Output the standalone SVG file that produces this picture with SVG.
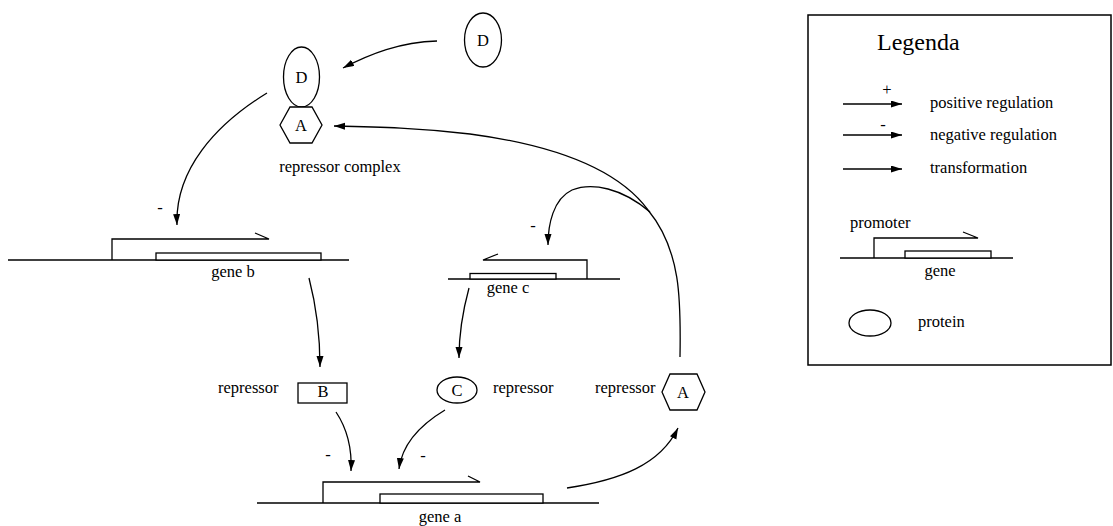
<svg xmlns="http://www.w3.org/2000/svg" width="1113" height="526" viewBox="0 0 1113 526">
<defs>
<marker id="ah" markerUnits="userSpaceOnUse" markerWidth="12" markerHeight="8" refX="11" refY="3.5" orient="auto">
<path d="M0,0 L11,3.5 L0,7 Z" fill="#000"/>
</marker>
<style>
text{font-family:"Liberation Serif","Times New Roman",serif;font-size:16.5px;fill:#000}
.c{text-anchor:middle}
.sh{fill:#fff;stroke:#000;stroke-width:1.3}
.ln{fill:none;stroke:#000;stroke-width:1.3}
.dna{fill:none;stroke:#000;stroke-width:1.6}
.box{fill:#fff;stroke:#000;stroke-width:1.3}
.con{fill:none;stroke:#000;stroke-width:1.3;marker-end:url(#ah)}
</style>
</defs>
<rect width="1113" height="526" fill="#fff"/>

<g id="connectors">
<path class="con" d="M437,41 C400,42 370,54 343,68"/>
<path class="con" d="M267,93 C215,125 175,170 177,225"/>
<path class="con" d="M680,357 C681,300 681,250 648,210 C620,172 560,146 470,134 C420,128 380,127 334,126"/>
<path class="con" d="M650,212 C622,188 592,182 572,190 C553,199 548,225 548,245"/>
<path class="con" d="M309,278 C316,305 320,330 320,367"/>
<path class="con" d="M469,288 C463,310 459,330 459,358"/>
<path class="con" d="M336,412 C348,430 352,450 351,471"/>
<path class="con" d="M445,410 C420,425 402,445 399,469"/>
<path class="con" d="M567,488 C620,480 660,465 678,428"/>
<text class="c" x="160" y="213">-</text>
<text class="c" x="533" y="231">-</text>
<text class="c" x="328" y="460">-</text>
<text class="c" x="423" y="461">-</text>
</g>

<g id="protein-D-free">
<ellipse class="sh" cx="483" cy="40" rx="18.5" ry="27"/>
<text class="c" x="483" y="46">D</text>
</g>

<g id="repressor-complex">
<ellipse class="sh" cx="301.5" cy="77" rx="18" ry="30"/>
<text class="c" x="301.5" y="83">D</text>
<polygon class="sh" points="280,125 290,107 312,107 322,125 312,143 290,143"/>
<text class="c" x="301" y="131">A</text>
<text class="c" x="340" y="172">repressor complex</text>
</g>

<g id="gene-b">
<line class="dna" x1="8" y1="260" x2="349" y2="260"/>
<rect class="box" x="156" y="253" width="165" height="7"/>
<path class="ln" d="M112,260 L112,239 L269,239 L255,233"/>
<text class="c" x="233" y="277">gene b</text>
</g>

<g id="gene-c">
<line class="dna" x1="448" y1="279" x2="620" y2="279"/>
<rect class="box" x="470" y="273.5" width="86" height="5.5"/>
<path class="ln" d="M587,279 L587,260 L483,260 L498,254"/>
<text class="c" x="508" y="293">gene c</text>
</g>

<g id="repressor-B">
<text x="218" y="393">repressor</text>
<rect class="sh" x="298" y="383" width="49" height="20"/>
<text class="c" x="323" y="397">B</text>
</g>

<g id="repressor-C">
<ellipse class="sh" cx="457" cy="390" rx="20" ry="13"/>
<text class="c" x="457" y="396">C</text>
<text x="493" y="393">repressor</text>
</g>

<g id="repressor-A">
<text x="595" y="393">repressor</text>
<polygon class="sh" points="662,392 670,374 697,374 705,392 697,410 670,410"/>
<text class="c" x="683" y="398">A</text>
</g>

<g id="gene-a">
<line class="dna" x1="257" y1="503" x2="599" y2="503"/>
<rect class="box" x="380" y="494" width="163" height="9"/>
<path class="ln" d="M323,503 L323,482 L480,482 L468,476"/>
<text class="c" x="440" y="522">gene a</text>
</g>

<g id="legend">
<rect x="808" y="15" width="303" height="350" fill="#fff" stroke="#000" stroke-width="1.5"/>
<text x="877" y="50" style="font-size:24px">Legenda</text>
<line class="con" x1="843" y1="104" x2="902" y2="104"/>
<text class="c" x="887" y="95">+</text>
<text x="930" y="108">positive regulation</text>
<line class="con" x1="843" y1="135" x2="902" y2="135"/>
<text class="c" x="883" y="130">-</text>
<text x="930" y="140">negative regulation</text>
<line class="con" x1="843" y1="169" x2="902" y2="169"/>
<text x="930" y="173">transformation</text>
<text x="850" y="228">promoter</text>
<line class="dna" x1="840" y1="258" x2="1013" y2="258"/>
<rect class="box" x="905" y="251" width="86" height="7"/>
<path class="ln" d="M874,258 L874,238 L978,238 L963,232"/>
<text class="c" x="940" y="276">gene</text>
<ellipse class="sh" cx="870" cy="323" rx="21" ry="13"/>
<text x="918" y="327">protein</text>
</g>
</svg>
